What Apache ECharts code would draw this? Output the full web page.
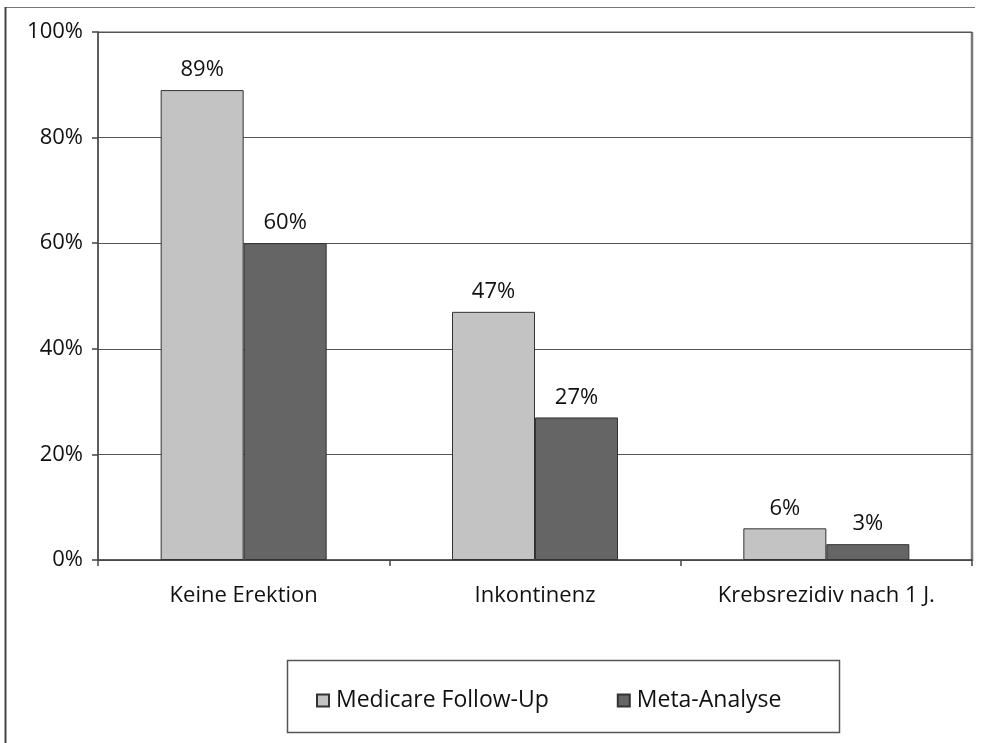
<!DOCTYPE html>
<html>
<head>
<meta charset="utf-8">
<script src="https://cdn.jsdelivr.net/npm/echarts@6/dist/echarts.min.js"></script>
<style>
  html, body { margin: 0; padding: 0; background: #fff; }
  #chart { width: 985px; height: 743px; }
</style>
</head>
<body>
<div id="chart"></div>
<script>
// Kategorien und Werte (Prozent)
const categories = ['Keine Erektion', 'Inkontinenz', 'Krebsrezidiv nach 1 J.'];
const medicareFollowUp = [89, 47, 6];
const metaAnalyse = [60, 27, 3];
const seriesNames = ['Medicare Follow-Up', 'Meta-Analyse'];

const FONT = '"Open Sans", "Noto Sans", sans-serif';
const TEXT = '#111';
const chart = echarts.init(document.getElementById('chart'), null, { renderer: 'canvas' });

const barLabel = {
  show: true,
  position: 'top',
  distance: 9,
  formatter: '{c}%',
  fontFamily: FONT,
  fontSize: 22,
  color: TEXT
};

chart.setOption({
  animation: false,
  backgroundColor: '#fff',
  grid: {
    left: 98, right: 13, top: 32, bottom: 183,
    show: true, borderColor: '#555', borderWidth: 1, backgroundColor: 'transparent'
  },
  xAxis: {
    type: 'category',
    data: categories,
    axisLine: { lineStyle: { color: '#444', width: 1.5 } },
    axisTick: { show: true, length: 6, lineStyle: { color: '#444', width: 1.5 } },
    axisLabel: { margin: 25, fontFamily: FONT, fontSize: 22, color: TEXT }
  },
  yAxis: {
    type: 'value',
    min: 0, max: 100, interval: 20,
    axisLine: { show: true, lineStyle: { color: '#444', width: 1.5 } },
    axisTick: { show: true, length: 6, lineStyle: { color: '#444', width: 1.5 } },
    axisLabel: { margin: 15, formatter: '{value}%', fontFamily: FONT, fontSize: 22, color: TEXT },
    splitLine: { show: true, lineStyle: { color: '#555', width: 1 } }
  },
  legend: {
    data: seriesNames,
    left: 311, top: 684,
    itemWidth: 12, itemHeight: 12, itemGap: 68,
    icon: 'rect',
    textStyle: { fontFamily: FONT, fontSize: 23, color: TEXT, padding: [0, 0, 0, 2] }
  },
  graphic: [
    // Rahmen der Legende
    { type: 'rect', shape: { x: 287.5, y: 660.5, width: 552, height: 72 },
      style: { fill: 'none', stroke: '#555', lineWidth: 1.5 }, z: -1 },
    // äußerer Rahmen oben und links
    { type: 'line', shape: { x1: 5, y1: 7.5, x2: 975, y2: 7.5 },
      style: { stroke: '#777', lineWidth: 1 } },
    { type: 'line', shape: { x1: 5.5, y1: 7, x2: 5.5, y2: 743 },
      style: { stroke: '#444', lineWidth: 2 } },
    // rechte Kante des Diagrammbereichs
    { type: 'line', shape: { x1: 972, y1: 32, x2: 972, y2: 561 },
      style: { stroke: '#777', lineWidth: 2.5 } }
  ],
  series: [
    {
      name: seriesNames[0], type: 'bar', data: medicareFollowUp,
      barWidth: 83, barGap: '0%',
      itemStyle: { color: '#c3c3c3', borderColor: '#333', borderWidth: 1 },
      label: barLabel
    },
    {
      name: seriesNames[1], type: 'bar', data: metaAnalyse,
      barWidth: 83, barGap: '0%',
      itemStyle: { color: '#656565', borderColor: '#333', borderWidth: 1 },
      label: barLabel
    }
  ]
});
</script>
</body>
</html>
